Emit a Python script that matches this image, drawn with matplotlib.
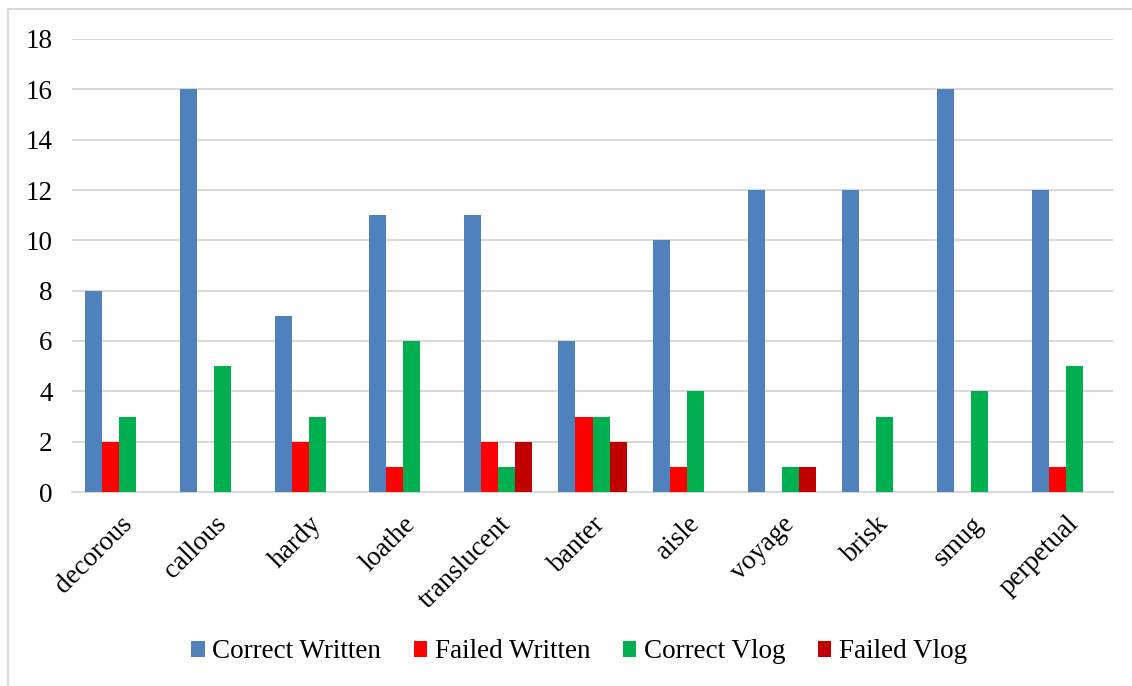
import numpy as np
import matplotlib.pyplot as plt
from matplotlib.patches import Rectangle

# word list and counts per group
words = ['decorous', 'callous', 'hardy', 'loathe', 'translucent', 'banter',
         'aisle', 'voyage', 'brisk', 'smug', 'perpetual']
correctWritten = [8, 16, 7, 11, 11, 6, 10, 12, 12, 16, 12]
failedWritten = [2, 0, 2, 1, 2, 3, 1, 0, 0, 0, 1]
correctVlog = [3, 5, 3, 6, 1, 3, 4, 1, 3, 4, 5]
failedVlog = [0, 0, 0, 0, 2, 2, 0, 1, 0, 0, 0]

seriesLabels = ['Correct Written', 'Failed Written', 'Correct Vlog', 'Failed Vlog']
seriesData = [correctWritten, failedWritten, correctVlog, failedVlog]
colors = ['#4F81BD', '#FF0000', '#00B050', '#C00000']

plt.rcParams['font.family'] = ['Liberation Serif', 'DejaVu Serif']

fig = plt.figure(figsize=(11.32, 6.86), dpi=100)
ax = fig.add_axes([72 / 1132, 1 - 492 / 686, (1113 - 72) / 1132, (492 - 39) / 686])

# outer chart border
fig.patches.append(Rectangle((8 / 1132, -0.01), 1.0, 1 - 9 / 686 + 0.01,
                             transform=fig.transFigure, fill=False,
                             edgecolor='#D9D9D9', linewidth=1.5))

x = np.arange(len(words))
barWidth = 0.18
for i, (vals, lab, col) in enumerate(zip(seriesData, seriesLabels, colors)):
    ax.bar(x + (i - 1.5) * barWidth, vals, width=barWidth, color=col,
           label=lab, zorder=3)

ax.set_xlim(-0.5, len(words) - 0.5)
ax.set_ylim(0, 18)
ax.set_yticks(range(0, 19, 2))
ax.set_xticks(x)
ax.set_xticklabels(words, rotation=45, ha='right', rotation_mode='anchor')
ax.tick_params(axis='both', length=0, labelsize=19.5, colors='black')
ax.tick_params(axis='y', pad=14)
ax.tick_params(axis='x', pad=14)
for lbl in ax.get_xticklabels():
    lbl.set_x(lbl.get_position()[0])

ax.grid(axis='y', color='#D9D9D9', linewidth=1.5, zorder=0)
for side in ['top', 'right', 'left']:
    ax.spines[side].set_visible(False)
ax.spines['bottom'].set_color('#D9D9D9')
ax.spines['bottom'].set_linewidth(1.5)

fig.legend(loc='center', bbox_to_anchor=(579 / 1132, 1 - 652 / 686), ncol=4,
           frameon=False, fontsize=19.5, handlelength=0.5, handleheight=0.5,
           handletextpad=0.28, columnspacing=1.2)

fig.savefig('out.png', dpi=100)
